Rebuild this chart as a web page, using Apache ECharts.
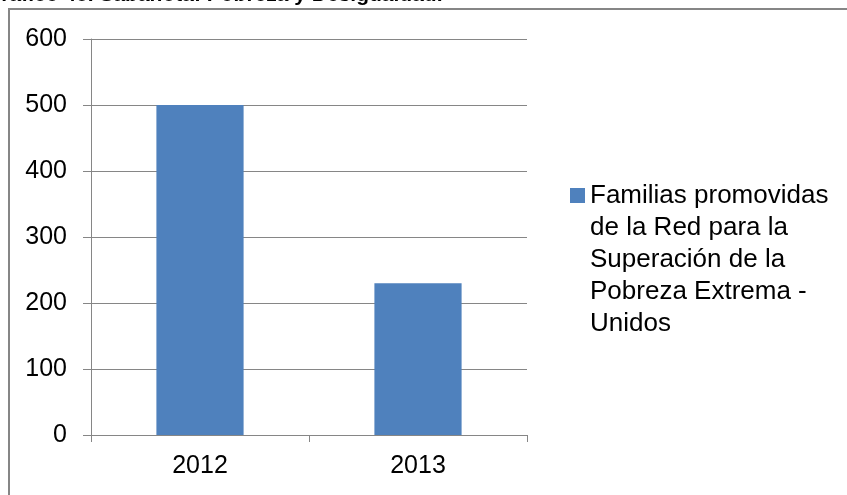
<!DOCTYPE html>
<html>
<head>
<meta charset="utf-8">
<script src="https://cdn.jsdelivr.net/npm/echarts@6/dist/echarts.min.js"></script>
<style>
    html, body { margin: 0; padding: 0; background: #fff; }
    #chart { width: 847px; height: 495px; }
</style>
</head>
<body>
<div id="chart"></div>
<script>
    // datos
    const years = ['2012', '2013'];
    const familias = [500, 230];
    const legendLines = ['Familias promovidas', 'de la Red para la', 'Superación de la', 'Pobreza Extrema -', 'Unidos'];
    const seriesName = legendLines.join(' ');
    const titleText = 'Gráfico 48. Sabanota: Pobreza y Desigualdad.';
    const barColor = '#4f81bd';

    let chart = echarts.init(document.getElementById('chart'));
    let option = {
        animation: false,
        graphic: [
            {
                type: 'text',
                left: -15,
                top: -15,
                style: {
                    text: titleText,
                    font: 'bold 21px "Liberation Sans", Arial, sans-serif',
                    fill: '#000'
                }
            },
            {
                type: 'rect',
                shape: { x: 9, y: 9, width: 900, height: 600 },
                style: { fill: 'none', stroke: '#868686', lineWidth: 2 }
            },
            // leyenda
            {
                type: 'rect',
                shape: { x: 570, y: 188, width: 15, height: 15 },
                style: { fill: barColor }
            },
            {
                type: 'text',
                left: 590,
                top: 180,
                style: {
                    text: legendLines.join('\n'),
                    font: '26px "Liberation Sans", Arial, sans-serif',
                    lineHeight: 32,
                    fill: '#000'
                }
            }
        ],
        grid: {
            left: 91,
            top: 39,
            right: 320,
            bottom: 60
        },
        xAxis: {
            type: 'category',
            data: years,
            axisLine: { lineStyle: { color: '#868686', width: 1 } },
            axisTick: { show: true, length: 7, lineStyle: { color: '#868686' } },
            axisLabel: {
                margin: 19,
                fontFamily: '"Liberation Sans", Arial, sans-serif',
                fontSize: 25,
                color: '#000'
            }
        },
        yAxis: {
            type: 'value',
            min: 0,
            max: 600,
            interval: 100,
            axisLine: { show: true, lineStyle: { color: '#868686', width: 1 } },
            axisTick: { show: true, length: 8, lineStyle: { color: '#868686' } },
            splitLine: { lineStyle: { color: '#868686', width: 1 } },
            axisLabel: {
                margin: 24,
                fontFamily: '"Liberation Sans", Arial, sans-serif',
                fontSize: 25,
                color: '#000'
            }
        },
        series: [
            {
                name: seriesName,
                type: 'bar',
                barWidth: '40%',
                itemStyle: { color: barColor },
                data: familias
            }
        ]
    };
    chart.setOption(option);
</script>
</body>
</html>
